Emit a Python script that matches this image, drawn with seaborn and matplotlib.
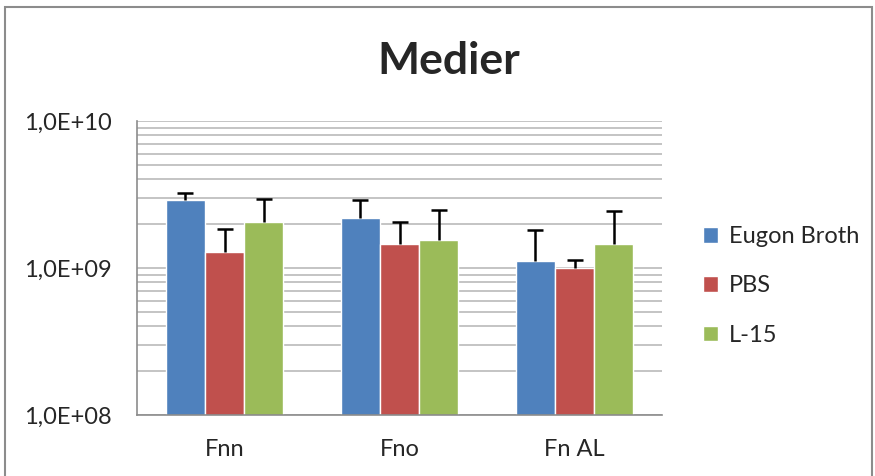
import seaborn as sns
import matplotlib.pyplot as plt
import matplotlib.ticker as mticker
from matplotlib.patches import Rectangle, Patch
import pandas as pd
import numpy as np

categories = ['Fnn', 'Fno', 'Fn AL']
media = ['Eugon Broth', 'PBS', 'L-15']
eugon = [2.9e9, 2.18e9, 1.11e9]
pbs = [1.28e9, 1.46e9, 1.0e9]
l15 = [2.05e9, 1.56e9, 1.46e9]
# top of the error bars
eugon_err = [3.25e9, 2.91e9, 1.82e9]
pbs_err = [1.85e9, 2.06e9, 1.14e9]
l15_err = [2.93e9, 2.49e9, 2.43e9]
colors = ['#4F81BD', '#C0504D', '#9BBB59']

rows = []
for m, vals, errs in zip(media, [eugon, pbs, l15], [eugon_err, pbs_err, l15_err]):
    for c, v, e in zip(categories, vals, errs):
        rows.append({'Kategori': c, 'Medium': m, 'Verdi': v, 'Topp': e})
df = pd.DataFrame(rows)

sns.set_style('white')
plt.rcParams['font.family'] = ['Lato', 'DejaVu Sans']

fig = plt.figure(figsize=(8.75, 4.76), dpi=100)
ax = fig.add_axes([137 / 875, 61 / 476, 525 / 875, 294 / 476])
ax.set_yscale('log')

sns.barplot(data=df, x='Kategori', y='Verdi', hue='Medium', order=categories,
            hue_order=media, palette=colors, width=0.67, saturation=1,
            errorbar=None, ax=ax, legend=False)

# error bars (upper only), positioned from the drawn bars
for cont, m in zip(ax.containers, media):
    sub = df[df['Medium'] == m].set_index('Kategori').loc[categories]
    xs = [b.get_x() + b.get_width() / 2 for b in cont]
    ys = sub['Verdi'].values
    up = sub['Topp'].values - ys
    eb = ax.errorbar(xs, ys, yerr=[np.zeros_like(up), up], fmt='none',
                     ecolor='black', elinewidth=1.8, capsize=6, capthick=1.8, zorder=3)
    for cl in eb[1]:
        if np.allclose(cl.get_ydata(), ys):
            cl.set_visible(False)

ax.set_ylim(1e8, 1e10)
ax.set_xlim(-0.5, 2.5)
ax.yaxis.set_major_locator(mticker.LogLocator(base=10, numticks=5))
ax.yaxis.set_minor_locator(mticker.LogLocator(base=10, subs=np.arange(2, 10), numticks=20))
ax.yaxis.set_major_formatter(mticker.FuncFormatter(lambda v, p: '1,0E+%02d' % round(np.log10(v))))
ax.yaxis.set_minor_formatter(mticker.NullFormatter())
ax.grid(True, which='both', axis='y', color='#b4b4b4', linewidth=1.1)
ax.set_axisbelow(True)
ax.tick_params(axis='both', which='both', length=0, labelsize=17)
ax.tick_params(axis='y', pad=18)
ax.tick_params(axis='x', pad=17)
ax.set_xlabel('')
ax.set_ylabel('')
for s in ['top', 'right']:
    ax.spines[s].set_visible(False)
for s in ['left', 'bottom']:
    ax.spines[s].set_color('#8c8c8c')
    ax.spines[s].set_linewidth(1.2)

fig.text(449 / 875, 1 - 61 / 476, 'Medier', ha='center', va='center',
         fontsize=32, fontweight='bold')

handles = [Patch(facecolor=c, label=m) for c, m in zip(colors, media)]
fig.legend(handles=handles, loc='center left', bbox_to_anchor=(703 / 875, 1 - 286 / 476),
           frameon=False, fontsize=17, handlelength=0.65, handleheight=0.65,
           handletextpad=0.45, labelspacing=1.2, borderaxespad=0, borderpad=0)

fig.patches.append(Rectangle((5 / 875, -0.05), 867 / 875, 1.05 - 7 / 476,
                             transform=fig.transFigure, fill=False,
                             edgecolor='#8c8c8c', linewidth=1.5))

fig.savefig('out.png', dpi=100)
